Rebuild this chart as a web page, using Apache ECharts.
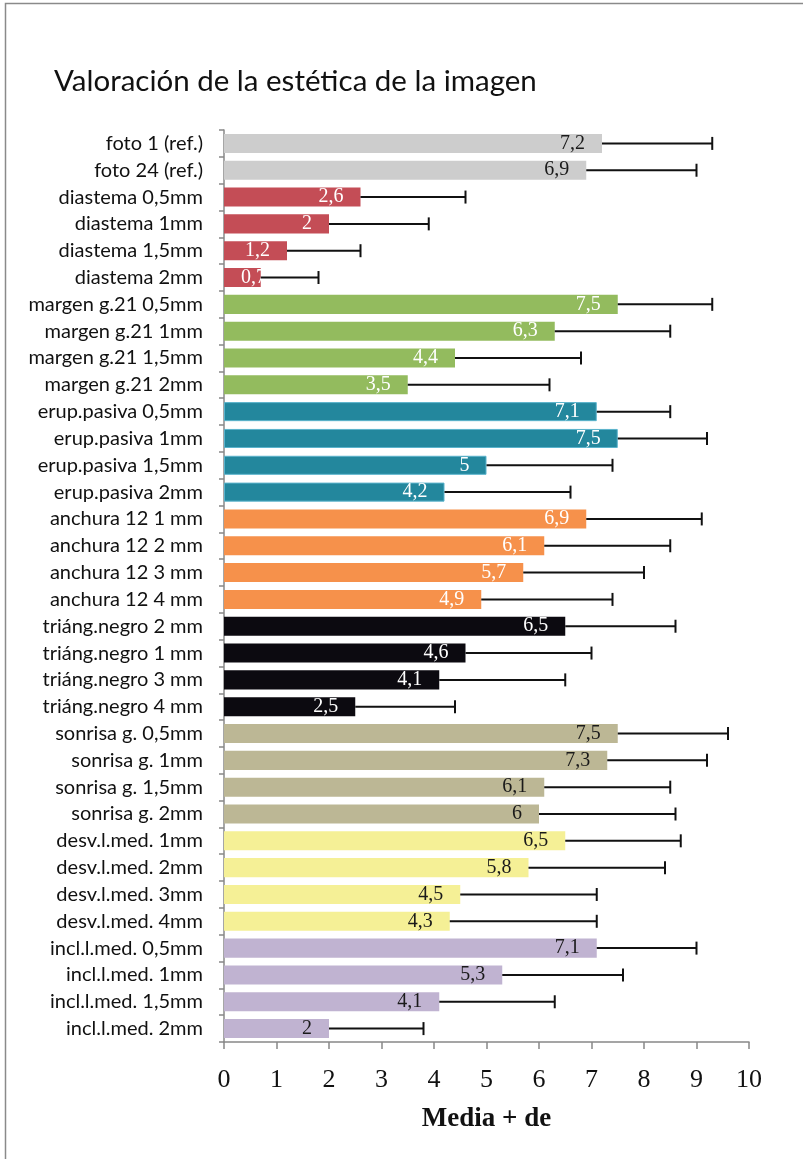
<!DOCTYPE html>
<html>
<head>
<meta charset="utf-8">
<script src="https://cdn.jsdelivr.net/npm/echarts@6/dist/echarts.min.js"></script>
<style>
  html, body { margin: 0; padding: 0; background: #fff; }
  #chart { width: 803px; height: 1159px; }
</style>
</head>
<body>
<div id="chart"></div>
<script>
// Image aesthetics ratings: mean score per image and standard deviation
const categories = [
  'foto 1 (ref.)', 'foto 24 (ref.)',
  'diastema 0,5mm', 'diastema 1mm', 'diastema 1,5mm', 'diastema 2mm',
  'margen g.21 0,5mm', 'margen g.21 1mm', 'margen g.21 1,5mm', 'margen g.21 2mm',
  'erup.pasiva 0,5mm', 'erup.pasiva 1mm', 'erup.pasiva 1,5mm', 'erup.pasiva 2mm',
  'anchura 12 1 mm', 'anchura 12 2 mm', 'anchura 12 3 mm', 'anchura 12 4 mm',
  'triáng.negro 2 mm', 'triáng.negro 1 mm', 'triáng.negro 3 mm', 'triáng.negro 4 mm',
  'sonrisa g. 0,5mm', 'sonrisa g. 1mm', 'sonrisa g. 1,5mm', 'sonrisa g. 2mm',
  'desv.l.med. 1mm', 'desv.l.med. 2mm', 'desv.l.med. 3mm', 'desv.l.med. 4mm',
  'incl.l.med. 0,5mm', 'incl.l.med. 1mm', 'incl.l.med. 1,5mm', 'incl.l.med. 2mm'
];

const means = [
  7.2, 6.9,
  2.6, 2, 1.2, 0.7,
  7.5, 6.3, 4.4, 3.5,
  7.1, 7.5, 5, 4.2,
  6.9, 6.1, 5.7, 4.9,
  6.5, 4.6, 4.1, 2.5,
  7.5, 7.3, 6.1, 6,
  6.5, 5.8, 4.5, 4.3,
  7.1, 5.3, 4.1, 2
];

const stdDevs = [
  2.1, 2.1,
  2.0, 1.9, 1.4, 1.1,
  1.8, 2.2, 2.4, 2.7,
  1.4, 1.7, 2.4, 2.4,
  2.2, 2.4, 2.3, 2.5,
  2.1, 2.4, 2.4, 1.9,
  2.1, 1.9, 2.4, 2.6,
  2.2, 2.6, 2.6, 2.8,
  1.9, 2.3, 2.2, 1.8
];

const groups = [
  'ref', 'ref',
  'diastema', 'diastema', 'diastema', 'diastema',
  'margen', 'margen', 'margen', 'margen',
  'erup', 'erup', 'erup', 'erup',
  'anchura', 'anchura', 'anchura', 'anchura',
  'triang', 'triang', 'triang', 'triang',
  'sonrisa', 'sonrisa', 'sonrisa', 'sonrisa',
  'desv', 'desv', 'desv', 'desv',
  'incl', 'incl', 'incl', 'incl'
];

const xTicks = [0, 10, 1]; // min, max, interval

// Fill, optional outline and value-label colour for each group
const palette = {
  ref:      { fill: '#cdcdcd', text: '#1a1a1a' },
  diastema: { fill: '#c44d56', text: '#ffffff' },
  margen:   { fill: '#93bb5e', text: '#ffffff' },
  erup:     { fill: '#23879d', text: '#ffffff', border: '#5ab3cc' },
  anchura:  { fill: '#f6914b', text: '#ffffff' },
  triang:   { fill: '#0c0a10', text: '#ffffff' },
  sonrisa:  { fill: '#bcb795', text: '#1a1a1a' },
  desv:     { fill: '#f5f096', text: '#1a1a1a' },
  incl:     { fill: '#c0b3d1', text: '#1a1a1a' }
};

const fmt = v => String(v).replace('.', ',');

const barData = means.map((m, i) => {
  const p = palette[groups[i]];
  return {
    value: m,
    itemStyle: {
      color: p.fill,
      borderColor: p.border || p.fill,
      borderWidth: p.border ? 1 : 0
    },
    label: {
      color: p.text,
      // short bars keep the label anchored at the bar start
      position: m < 1 ? 'insideLeft' : 'insideRight'
    }
  };
});

const errData = means.map((m, i) => [m, i, m + stdDevs[i]]);

const chart = echarts.init(document.getElementById('chart'), null, { renderer: 'canvas' });

chart.setOption({
  animation: false,
  backgroundColor: '#ffffff',
  graphic: [{
    type: 'rect',
    shape: { x: 5.5, y: 3.5, width: 1000, height: 1200 },
    style: { fill: 'none', stroke: '#8a8a8a', lineWidth: 1.5 },
    silent: true
  }],
  title: {
    text: 'Valoración de la estética de la imagen',
    left: 49,
    top: 61,
    textStyle: {
      fontFamily: 'Lato',
      fontSize: 29.5,
      fontWeight: 'normal',
      color: '#111111'
    }
  },
  grid: {
    left: 224,
    right: 54,
    top: 130,
    bottom: 117,
    containLabel: false
  },
  xAxis: {
    type: 'value',
    min: xTicks[0],
    max: xTicks[1],
    interval: xTicks[2],
    axisLine: { show: true, lineStyle: { color: '#888888', width: 1.5 } },
    axisTick: { show: true, length: 7, lineStyle: { color: '#888888', width: 1.5 } },
    splitLine: { show: false },
    axisLabel: {
      fontFamily: 'Liberation Serif',
      fontSize: 26,
      color: '#111111',
      margin: 25
    },
    name: 'Media + de',
    nameLocation: 'middle',
    nameGap: 64,
    nameTextStyle: {
      fontFamily: 'Liberation Serif',
      fontSize: 27,
      fontWeight: 'bold',
      color: '#111111'
    }
  },
  yAxis: {
    type: 'category',
    inverse: true,
    data: categories,
    axisLine: { show: true, lineStyle: { color: '#888888', width: 1.5 } },
    axisTick: { show: true, length: 5, lineStyle: { color: '#888888', width: 1.5 } },
    axisLabel: {
      fontFamily: 'Lato',
      fontSize: 20,
      color: '#111111',
      margin: 21
    }
  },
  series: [
    {
      type: 'bar',
      data: barData,
      barCategoryGap: '29%',
      z: 2,
      label: {
        show: true,
        distance: 17,
        fontFamily: 'Liberation Serif',
        fontSize: 20,
        formatter: p => fmt(p.value)
      }
    },
    {
      // standard deviation whiskers, drawn to the right of each bar
      type: 'custom',
      z: 5,
      data: errData,
      encode: { x: [0, 2], y: 1 },
      renderItem: (params, api) => {
        const start = api.coord([api.value(0), api.value(1)]);
        const end = api.coord([api.value(2), api.value(1)]);
        const cap = 6.5;
        const style = { stroke: '#111111', lineWidth: 2 };
        return {
          type: 'group',
          children: [
            { type: 'line', shape: { x1: start[0], y1: start[1], x2: end[0], y2: end[1] }, style },
            { type: 'line', shape: { x1: end[0], y1: end[1] - cap, x2: end[0], y2: end[1] + cap }, style }
          ]
        };
      }
    }
  ]
});
</script>
</body>
</html>
